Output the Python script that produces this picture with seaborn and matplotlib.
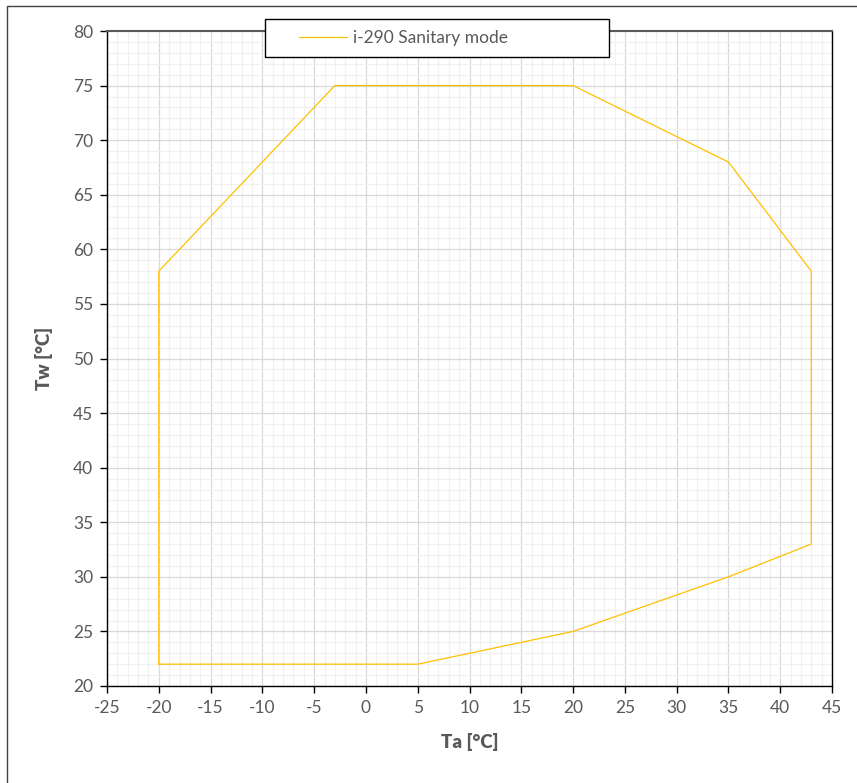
import numpy as np
import pandas as pd
import matplotlib
matplotlib.use('Agg')
import matplotlib.pyplot as plt
import seaborn as sb
from matplotlib.patches import Rectangle
from matplotlib.ticker import MultipleLocator

# operating envelope (closed polygon)
ta = [-20, 5, 20, 35, 43, 43, 35, 20, -3, -20, -20]
tw = [22, 22, 25, 30, 33, 58, 68, 75, 75, 58, 22]
series_name = 'i-290 Sanitary mode'

df = pd.DataFrame({'Ta': ta, 'Tw': tw})

sb.set_style('white')
plt.rcParams['font.family'] = ['Lato', 'DejaVu Sans']
plt.rcParams['axes.unicode_minus'] = False

fig = plt.figure(figsize=(8.57, 7.83), dpi=100)
ax = fig.add_axes([107/857, 1 - 686/783, (832-107)/857, (686-31)/783])

sb.lineplot(data=df, x='Ta', y='Tw', sort=False, estimator=None,
            color='#FFC000', linewidth=0.9, ax=ax, label=series_name)

ax.set_xlim(-25, 45)
ax.set_ylim(20, 80)
ax.xaxis.set_major_locator(MultipleLocator(5))
ax.yaxis.set_major_locator(MultipleLocator(5))
ax.xaxis.set_minor_locator(MultipleLocator(1))
ax.yaxis.set_minor_locator(MultipleLocator(1))
ax.grid(which='major', color='#d9d9d9', linewidth=0.9)
ax.grid(which='minor', color='#f0f0f0', linewidth=0.9)
ax.set_axisbelow(True)

ax.tick_params(which='major', direction='out', length=5, width=1, color='black',
               labelsize=12.5, labelcolor='#595959', pad=5,
               bottom=True, left=True)
ax.tick_params(which='minor', length=0)
for s in ['left', 'bottom', 'right']:
    ax.spines[s].set_color('black')
    ax.spines[s].set_linewidth(1)
ax.spines['top'].set_color('#595959')
ax.spines['top'].set_linewidth(1.5)

ax.set_xlabel('Ta [°C]', fontsize=13.5, fontweight='heavy', color='#595959', labelpad=12)
ax.set_ylabel('Tw [°C]', fontsize=13.5, fontweight='heavy', color='#595959', labelpad=14)

# legend box
ax.get_legend().remove()
fig.patches.append(Rectangle((265/857, 1 - 57/783), 344/857, 38/783,
                             transform=fig.transFigure, facecolor='white',
                             edgecolor='black', linewidth=1, zorder=5))
leg = fig.legend(*ax.get_legend_handles_labels(), loc='center left',
                 bbox_to_anchor=(283/857, 1 - 38/783), frameon=False,
                 fontsize=12.5, handlelength=2.8, handletextpad=0.35,
                 labelcolor='#595959')
leg.set_zorder(6)

# outer chart border (only top and left visible in the crop)
fig.patches.append(Rectangle((7/857, -0.01), 1.0, 1 - 6/783 + 0.01,
                             transform=fig.transFigure, facecolor='none',
                             edgecolor='#404040', linewidth=1))

fig.savefig('out.png', dpi=100)
